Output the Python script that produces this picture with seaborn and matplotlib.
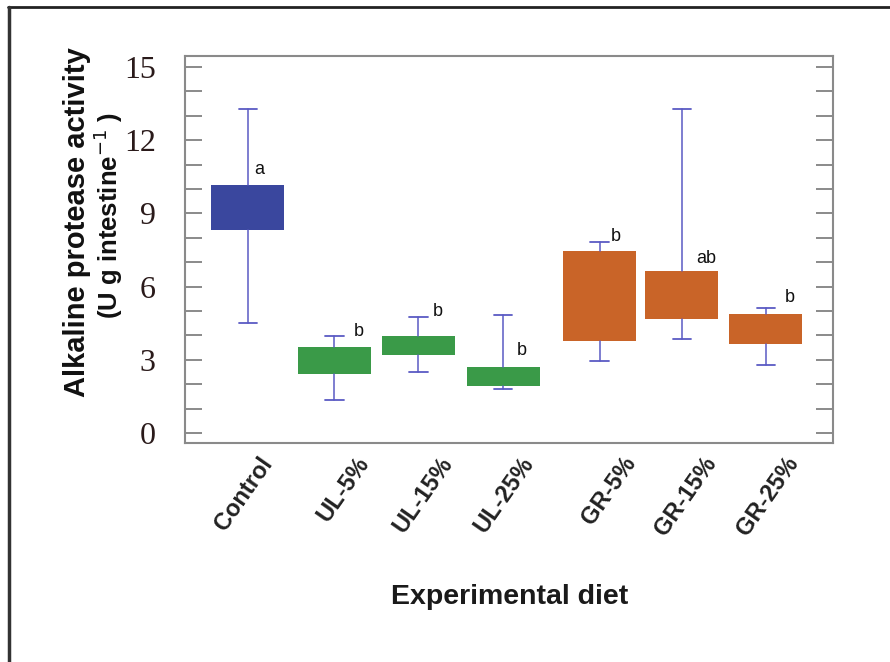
import seaborn as sns
import matplotlib.pyplot as plt
from matplotlib.lines import Line2D
from matplotlib.ticker import MultipleLocator
from matplotlib.transforms import ScaledTranslation

# values
diets = ["Control", "UL-5%", "UL-15%", "UL-25%", "GR-5%", "GR-15%", "GR-25%"]
box_low = [8.32, 2.42, 3.21, 1.94, 3.77, 4.66, 3.65]
box_high = [10.16, 3.52, 3.99, 2.72, 7.47, 6.65, 4.88]
whisk_low = [4.50, 1.35, 2.51, 1.79, 2.96, 3.87, 2.79]
whisk_high = [13.28, 3.97, 4.77, 4.85, 7.83, 13.28, 5.11]
letters = ["a", "b", "b", "b", "b", "ab", "b"]
letter_y = [10.78, 4.15, 4.97, 3.40, 8.07, 7.17, 5.57]

sns.set_style("white")
plt.rcParams["font.family"] = ["Liberation Sans", "DejaVu Sans"]

colors = ["#3a479e"] + ["#3a9a48"] * 3 + ["#c96428"] * 3
pos = [0, 1.03, 2.03, 3.04, 4.19, 5.17, 6.17]
dx = [0.14, 0.29, 0.23, 0.22, 0.19, 0.29, 0.28]

fig = plt.figure(figsize=(8.9, 6.62), dpi=100)
ax = fig.add_axes([0.2079, 0.3308, 0.7281, 0.5846])

stats = []
for i, d in enumerate(diets):
    stats.append({"label": d, "q1": box_low[i], "q3": box_high[i],
                  "med": (box_low[i] + box_high[i]) / 2,
                  "whislo": whisk_low[i], "whishi": whisk_high[i], "fliers": []})

wcol = "#5a5ac4"
bp = ax.bxp(stats, positions=pos, widths=0.87, patch_artist=True, showfliers=False,
            medianprops=dict(linewidth=0),
            whiskerprops=dict(color=wcol, linewidth=1.1),
            capprops=dict(color=wcol, linewidth=1.3),
            boxprops=dict(linewidth=0), capwidths=0.22, zorder=3)
for patch, c in zip(bp["boxes"], colors):
    patch.set_facecolor(c)
    patch.set_edgecolor(c)
    patch.set_zorder(3)

for i in range(len(diets)):
    ax.text(pos[i] + dx[i], letter_y[i], letters[i], fontsize=13, ha="center",
            va="center", color="#111", zorder=4)

ax.set_xlim(-0.75, 6.97)
ax.set_ylim(-0.41, 15.45)
ax.set_yticks([0, 3, 6, 9, 12, 15])
ax.yaxis.set_minor_locator(MultipleLocator(1))
ax.tick_params(axis="y", which="both", direction="in", left=True, right=True,
               length=12, width=1.2, color="#777", pad=21)
ax.tick_params(axis="x", which="both", bottom=False, top=False, pad=2)
for lab in ax.get_yticklabels():
    lab.set_fontfamily(["Liberation Serif", "DejaVu Serif"])
    lab.set_fontsize(23)
    lab.set_color("#2a1a1a")

ax.set_xticks(pos)
ax.set_xticklabels(diets, rotation=55, ha="right", rotation_mode="anchor",
                   fontsize=17, fontweight="bold", color="#222")
shift = [10, 21, 20, 17, 22, 20, 18]
for lab, px in zip(ax.get_xticklabels(), shift):
    lab.set_transform(lab.get_transform() + ScaledTranslation(px / 100, -2 / 100, fig.dpi_scale_trans))

for s in ax.spines.values():
    s.set_color("#8a8a8a")
    s.set_linewidth(1.5)

fig.text(0.0865, 0.665, "Alkaline protease activity", rotation=90, ha="center",
         va="center", fontsize=21, fontweight="bold", color="#111")
fig.text(0.122, 0.675, "(U g intestine$^{-1}$ )", rotation=90, ha="center",
         va="center", fontsize=18.5, fontweight="bold", color="#111")
fig.text(0.573, 0.098, "Experimental diet", ha="center", va="center",
         fontsize=20.5, fontweight="bold", color="#1a1a1a")

fig.add_artist(Line2D([0.009, 1.0], [0.989, 0.989], color="#222", linewidth=2))
fig.add_artist(Line2D([0.0101, 0.0101], [0.0, 0.989], color="#333", linewidth=2.5))

fig.savefig("out.png", dpi=100)
